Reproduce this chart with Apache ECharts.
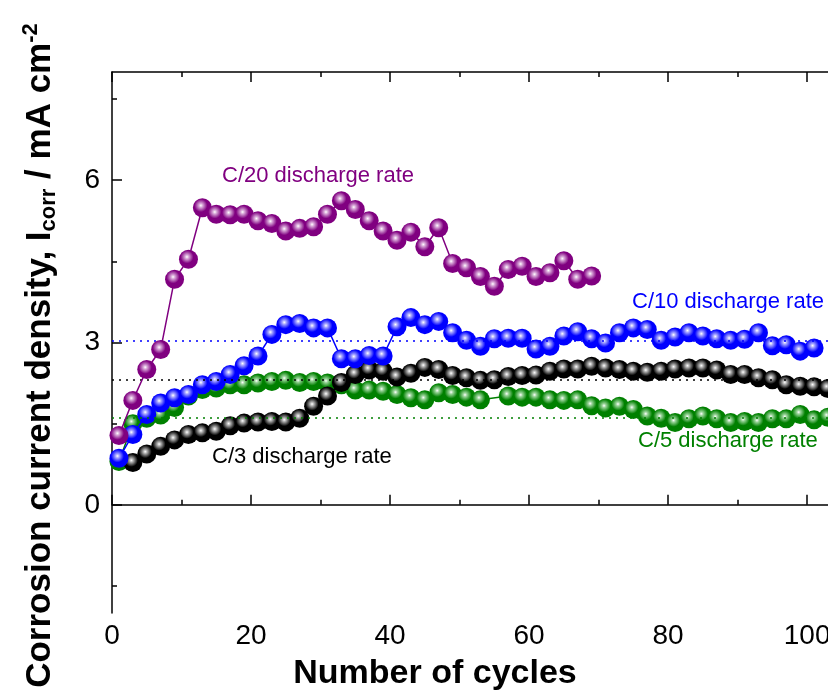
<!DOCTYPE html>
<html><head><meta charset="utf-8">
<script src="https://cdn.jsdelivr.net/npm/echarts@6/dist/echarts.min.js"></script>
<style>html,body{margin:0;padding:0;background:#fff}#c{width:828px;height:690px}</style>
</head><body><div id="c"></div>
<script>
// ---- data ----
const cyclesC20 = [1,3,5,7,9,11,13,15,17,19,21,23,25,27,29,31,33,35,37,39,41,43,45,47,49,51,53,55,57,59,61,63,65,67,69];
const valuesC20 = [1.28,1.93,2.50,2.87,4.17,4.54,5.49,5.37,5.36,5.37,5.25,5.20,5.06,5.11,5.14,5.37,5.62,5.46,5.25,5.06,4.89,5.04,4.77,5.12,4.46,4.38,4.22,4.04,4.35,4.41,4.22,4.29,4.51,4.17,4.23];

const cyclesC10 = [1,3,5,7,9,11,13,15,17,19,21,23,25,27,29,31,33,35,37,39,41,43,45,47,49,51,53,55,57,59,61,63,65,67,69,71,73,75,77,79,81,83,85,87,89,91,93,95,97,99,101];
const valuesC10 = [0.86,1.30,1.67,1.88,1.98,2.04,2.22,2.28,2.41,2.57,2.75,3.15,3.33,3.35,3.27,3.27,2.70,2.70,2.76,2.75,3.29,3.46,3.33,3.39,3.18,3.04,2.93,3.07,3.08,3.08,2.88,2.93,3.12,3.20,3.07,2.99,3.18,3.27,3.24,3.04,3.10,3.18,3.12,3.07,3.04,3.06,3.18,2.94,2.96,2.84,2.90];

const cyclesC3 = [3,5,7,9,11,13,15,17,19,21,23,25,27,29,31,33,35,37,39,41,43,45,47,49,51,53,55,57,59,61,63,65,67,69,71,73,75,77,79,81,83,85,87,89,91,93,95,97,99,101,103];
const valuesC3 = [0.78,0.94,1.08,1.20,1.30,1.33,1.36,1.46,1.51,1.53,1.54,1.53,1.60,1.82,2.01,2.26,2.41,2.49,2.47,2.36,2.43,2.54,2.50,2.39,2.35,2.30,2.31,2.37,2.39,2.40,2.47,2.51,2.51,2.56,2.53,2.50,2.47,2.45,2.47,2.51,2.53,2.53,2.49,2.41,2.41,2.35,2.31,2.22,2.19,2.18,2.15];

const cyclesC5 = [1,3,5,7,9,11,13,15,17,19,21,23,25,27,29,31,33,35,37,39,41,43,45,47,49,51,53,57,59,61,63,65,67,69,71,73,75,77,79,81,83,85,87,89,91,93,95,97,99,101,103];
const valuesC5 = [0.80,1.50,1.60,1.66,1.80,2.01,2.13,2.16,2.22,2.22,2.25,2.28,2.30,2.26,2.28,2.25,2.22,2.12,2.12,2.10,2.04,1.98,1.94,2.07,2.04,1.99,1.94,2.01,1.99,1.99,1.94,1.93,1.94,1.83,1.79,1.82,1.76,1.64,1.60,1.52,1.59,1.64,1.59,1.52,1.54,1.52,1.59,1.59,1.67,1.57,1.62];

const averageC10 = 3.04;
const averageC3 = 2.31;
const averageC5 = 1.60;

const xMajorTicks = [0,20,40,60,80,100];
const xMinorTicks = [10,30,50,70,90];
const yMajorTicks = [0,3,6];
const yMinorTicks = [-1.5,1.5,4.5,7.5];

// ---- chart ----
const F = '"Liberation Sans", Arial, Helvetica, sans-serif';
function pairs(xs, ys) { return xs.map((x, i) => [x, ys[i]]); }
function sphere(base, mid) {
  return { type: 'radial', x: 0.42, y: 0.38, r: 0.62,
    colorStops: [{offset: 0, color: '#ffffff'}, {offset: 0.16, color: mid}, {offset: 0.55, color: base}, {offset: 1, color: base}] };
}
function makeSeries(name, xs, ys, base, mid, avg, z) {
  const s = {
    name, type: 'line', data: pairs(xs, ys), z,
    symbol: 'circle', symbolSize: 19, showSymbol: true,
    lineStyle: { color: base, width: 1.5 },
    itemStyle: { color: sphere(base, mid) },
    emphasis: { disabled: true },
    animation: false
  };
  if (avg != null) {
    s.markLine = { silent: true, symbol: 'none', animation: false, label: { show: false },
      lineStyle: { color: base, type: [2, 5], width: 1.5 }, data: [{ yAxis: avg }] };
  }
  return s;
}
const axisLineStyle = { color: '#000', width: 1.5 };
const chart = echarts.init(document.getElementById('c'), null, { renderer: 'canvas' });
chart.setOption({
  backgroundColor: '#fff',
  animation: false,
  grid: { left: 112, right: 0, top: 72, bottom: 77, containLabel: false, outerBoundsMode: 'none' },
  xAxis: [
    { type: 'value', min: 0, max: 103, position: 'bottom',
      axisLine: { lineStyle: axisLineStyle },
      axisTick: { inside: true, length: 10, customValues: xMajorTicks, lineStyle: axisLineStyle },
      axisLabel: { customValues: xMajorTicks, fontSize: 28, color: '#000', fontFamily: F, margin: 9 },
      splitLine: { show: false },
      name: 'Number of cycles', nameLocation: 'middle', nameGap: 44,
      nameTextStyle: { fontSize: 34, fontWeight: 'bold', color: '#000', fontFamily: F, padding: [0, 70, 0, 0] } },
    { type: 'value', min: 0, max: 103, position: 'bottom',
      axisLine: { show: false },
      axisTick: { inside: true, length: 5, customValues: xMinorTicks, lineStyle: axisLineStyle },
      axisLabel: { show: false }, splitLine: { show: false } },
    { type: 'value', min: 0, max: 103, position: 'top',
      axisLine: { lineStyle: axisLineStyle },
      axisTick: { inside: true, length: 10, customValues: xMajorTicks, lineStyle: axisLineStyle },
      axisLabel: { show: false }, splitLine: { show: false } },
    { type: 'value', min: 0, max: 103, position: 'top',
      axisLine: { show: false },
      axisTick: { inside: true, length: 5, customValues: xMinorTicks, lineStyle: axisLineStyle },
      axisLabel: { show: false }, splitLine: { show: false } }
  ],
  yAxis: [
    { type: 'value', min: -2, max: 8, position: 'left',
      axisLine: { lineStyle: axisLineStyle },
      axisTick: { inside: true, length: 10, customValues: yMajorTicks, lineStyle: axisLineStyle },
      axisLabel: { customValues: yMajorTicks, fontSize: 28, color: '#000', fontFamily: F, margin: 12 },
      splitLine: { show: false },
      name: '{m|Corrosion current density, I}{s|corr}{m| / mA cm}{p|-2}',
      nameLocation: 'middle', nameGap: 52,
      nameTextStyle: { padding: [0, 26, 0, 0], rich: {
        m: { fontSize: 35, fontWeight: 'bold', color: '#000', fontFamily: F, lineHeight: 40 },
        s: { fontSize: 22, fontWeight: 'bold', color: '#000', fontFamily: F, lineHeight: 24, verticalAlign: 'bottom' },
        p: { fontSize: 22, fontWeight: 'bold', color: '#000', fontFamily: F, lineHeight: 22, verticalAlign: 'top' }
      } } },
    { type: 'value', min: -2, max: 8, position: 'left',
      axisLine: { show: false },
      axisTick: { inside: true, length: 5, customValues: yMinorTicks, lineStyle: axisLineStyle },
      axisLabel: { show: false }, splitLine: { show: false } }
  ],
  series: [
    makeSeries('C/5', cyclesC5, valuesC5, '#008000', '#9ad49a', averageC5, 2),
    makeSeries('C/3', cyclesC3, valuesC3, '#000000', '#b0b0b0', averageC3, 3),
    makeSeries('C/10', cyclesC10, valuesC10, '#0000ff', '#a8a8ff', averageC10, 4),
    makeSeries('C/20', cyclesC20, valuesC20, '#800080', '#d8a8d8', null, 5)
  ],
  graphic: [
    { type: 'text', x: 222, y: 176, style: { text: 'C/20 discharge rate', fill: '#800080', font: '22px ' + F, verticalAlign: 'middle' } },
    { type: 'text', x: 632, y: 302, style: { text: 'C/10 discharge rate', fill: '#0000ff', font: '22px ' + F, verticalAlign: 'middle' } },
    { type: 'text', x: 212, y: 457, style: { text: 'C/3 discharge rate', fill: '#000000', font: '22px ' + F, verticalAlign: 'middle' } },
    { type: 'text', x: 638, y: 441, style: { text: 'C/5 discharge rate', fill: '#008000', font: '22px ' + F, verticalAlign: 'middle' } }
  ]
});
</script>
</body></html>
